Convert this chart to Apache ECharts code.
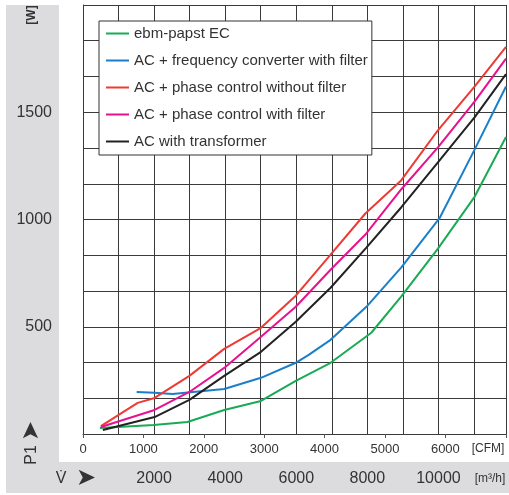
<!DOCTYPE html>
<html>
<head>
<meta charset="utf-8">
<script src="https://cdn.jsdelivr.net/npm/echarts@6/dist/echarts.min.js"></script>
<style>
html,body{margin:0;padding:0;background:#fff;}
#c{width:509px;height:495px;}
</style>
</head>
<body>
<div id="c"></div>
<script>
// Data (x in m3/h, y in W)
const seriesNames = [
  'ebm-papst EC',
  'AC + frequency converter with filter',
  'AC + phase control without filter',
  'AC + phase control with filter',
  'AC with transformer'
];
const ecX   = [475, 1986, 2937, 3972, 5007, 5986, 6965, 8111, 8950, 9985, 11020, 11900];
const ecY   = [28, 42, 56, 112, 154, 248, 332, 472, 640, 864, 1107, 1385];
const fcX   = [1510, 2014, 2517, 3972, 5007, 5986, 6349, 6965, 7972, 8950, 10041, 11020, 11900];
const fcY   = [196, 192, 187, 210, 262, 332, 369, 439, 593, 776, 1009, 1327, 1620];
const pcnfX = [503, 1538, 2014, 2993, 3972, 5007, 5986, 6965, 7944, 8950, 9985, 11020, 11900];
const pcnfY = [37, 145, 168, 271, 397, 495, 645, 836, 1028, 1182, 1416, 1621, 1805];
const pcfX  = [503, 2014, 2993, 3972, 5007, 5986, 6965, 7944, 8950, 9985, 11020, 11900];
const pcfY  = [33, 112, 196, 308, 453, 593, 766, 930, 1140, 1336, 1551, 1750];
const trX   = [559, 2014, 2993, 3972, 5007, 5986, 6965, 7972, 8950, 9985, 11020, 11900];
const trY   = [19, 79, 159, 271, 383, 523, 682, 869, 1056, 1266, 1477, 1678];
const seriesX = [ecX, fcX, pcnfX, pcfX, trX];
const seriesY = [ecY, fcY, pcnfY, pcfY, trY];
const colors = ['#1aaa55', '#1a7fc8', '#ee3a35', '#e8118e', '#222222'];

const m3hLabels = [2000, 4000, 6000, 8000, 10000];
const cfmLabels = [0, 1000, 2000, 3000, 4000, 5000, 6000];
const wLabels = [500, 1000, 1500];

const X_MAX = 11900;          // m3/h
const CFM_PER_M3H = 1 / 1.699;
const Y_MAX = 2000;

const font = 'Liberation Sans, Arial, sans-serif';
const gridColor = '#3a3a3a';

const chart = echarts.init(document.getElementById('c'), null, {renderer: 'canvas'});

const series = seriesNames.map((n, i) => ({
  name: n,
  type: 'line',
  xAxisIndex: 0,
  symbol: 'none',
  smooth: false,
  lineStyle: {color: colors[i], width: 2},
  itemStyle: {color: colors[i]},
  data: seriesX[i].map((x, k) => [x, seriesY[i][k]]),
  z: 5
}));

chart.setOption({
  animation: false,
  backgroundColor: '#ffffff',
  graphic: [
    {type: 'rect', z: -10, shape: {x: 6, y: 5, width: 503, height: 488}, style: {fill: '#dcdcde'}},
    {type: 'rect', z: -9, shape: {x: 59, y: 0, width: 450, height: 462}, style: {fill: '#ffffff'}},
    {type: 'text', z: 10, x: 32, y: 15, rotation: Math.PI / 2,
      style: {text: '[W]', font: 'bold 12px ' + font, fill: '#333', align: 'center', verticalAlign: 'middle'}},
    {type: 'text', z: 10, x: 32, y: 455, rotation: Math.PI / 2,
      style: {text: 'P1', font: '16px ' + font, fill: '#333', align: 'center', verticalAlign: 'middle'}},
    {type: 'text', z: 10, x: 32, y: 431, rotation: Math.PI / 2,
      style: {text: '➤', font: '24px DejaVu Sans', fill: '#333', align: 'center', verticalAlign: 'middle'}},
    {type: 'text', z: 10, x: 61, y: 479,
      style: {text: 'V\u0307', font: '16px ' + font, fill: '#333', align: 'center', verticalAlign: 'middle'}},
    {type: 'text', z: 10, x: 86, y: 479,
      style: {text: '➤', font: '24px DejaVu Sans', fill: '#333', align: 'center', verticalAlign: 'middle'}},
    {type: 'text', z: 10, x: 488, y: 449,
      style: {text: '[CFM]', font: '12px ' + font, fill: '#333', align: 'center', verticalAlign: 'middle'}},
    {type: 'text', z: 10, x: 490, y: 479,
      style: {text: '[m³/h]', font: '12px ' + font, fill: '#333', align: 'center', verticalAlign: 'middle'}}
  ],
  grid: {left: 83, top: 5, right: 0, bottom: 61, containLabel: false},
  legend: {
    orient: 'vertical',
    left: 99, top: 21,
    backgroundColor: '#ffffff',
    borderColor: '#333',
    borderWidth: 1,
    padding: [5, 4, 6, 6],
    itemWidth: 23,
    itemHeight: 15,
    itemGap: 12,
    itemStyle: {opacity: 0},
    textStyle: {fontFamily: font, fontSize: 15, color: '#333', padding: [0, 0, 0, 0]},
    data: seriesNames,
    z: 20
  },
  xAxis: [
    {
      type: 'value', position: 'bottom', min: 0, max: X_MAX, interval: 1000,
      axisLine: {show: true, lineStyle: {color: gridColor, width: 1}},
      axisTick: {show: false},
      splitLine: {show: true, lineStyle: {color: gridColor, width: 1}},
      axisLabel: {
        show: true, margin: 37, fontFamily: font, fontSize: 16, color: '#333',
        formatter: v => m3hLabels.indexOf(Math.round(v)) >= 0 ? String(Math.round(v)) : ''
      }
    },
    {
      type: 'value', position: 'bottom', min: 0, max: X_MAX * CFM_PER_M3H, interval: 1000,
      axisLine: {show: false},
      axisTick: {show: true, length: 4, lineStyle: {color: '#555', width: 1}, interval: 0},
      splitLine: {show: false},
      axisLabel: {
        show: true, margin: 9, fontFamily: font, fontSize: 13, color: '#333',
        formatter: v => cfmLabels.indexOf(Math.round(v)) >= 0 ? String(Math.round(v)) : ''
      }
    }
  ],
  yAxis: {
    type: 'value', min: 0, max: Y_MAX, interval: Y_MAX / 12,
    axisLine: {show: true, lineStyle: {color: gridColor, width: 1}},
    axisTick: {show: false},
    splitLine: {show: true, lineStyle: {color: gridColor, width: 1}},
    axisLabel: {
      show: true, margin: 31, fontFamily: font, fontSize: 16, color: '#333',
      formatter: v => wLabels.indexOf(Math.round(v)) >= 0 ? String(Math.round(v)) : ''
    }
  },
  series: series
});
</script>
</body>
</html>
